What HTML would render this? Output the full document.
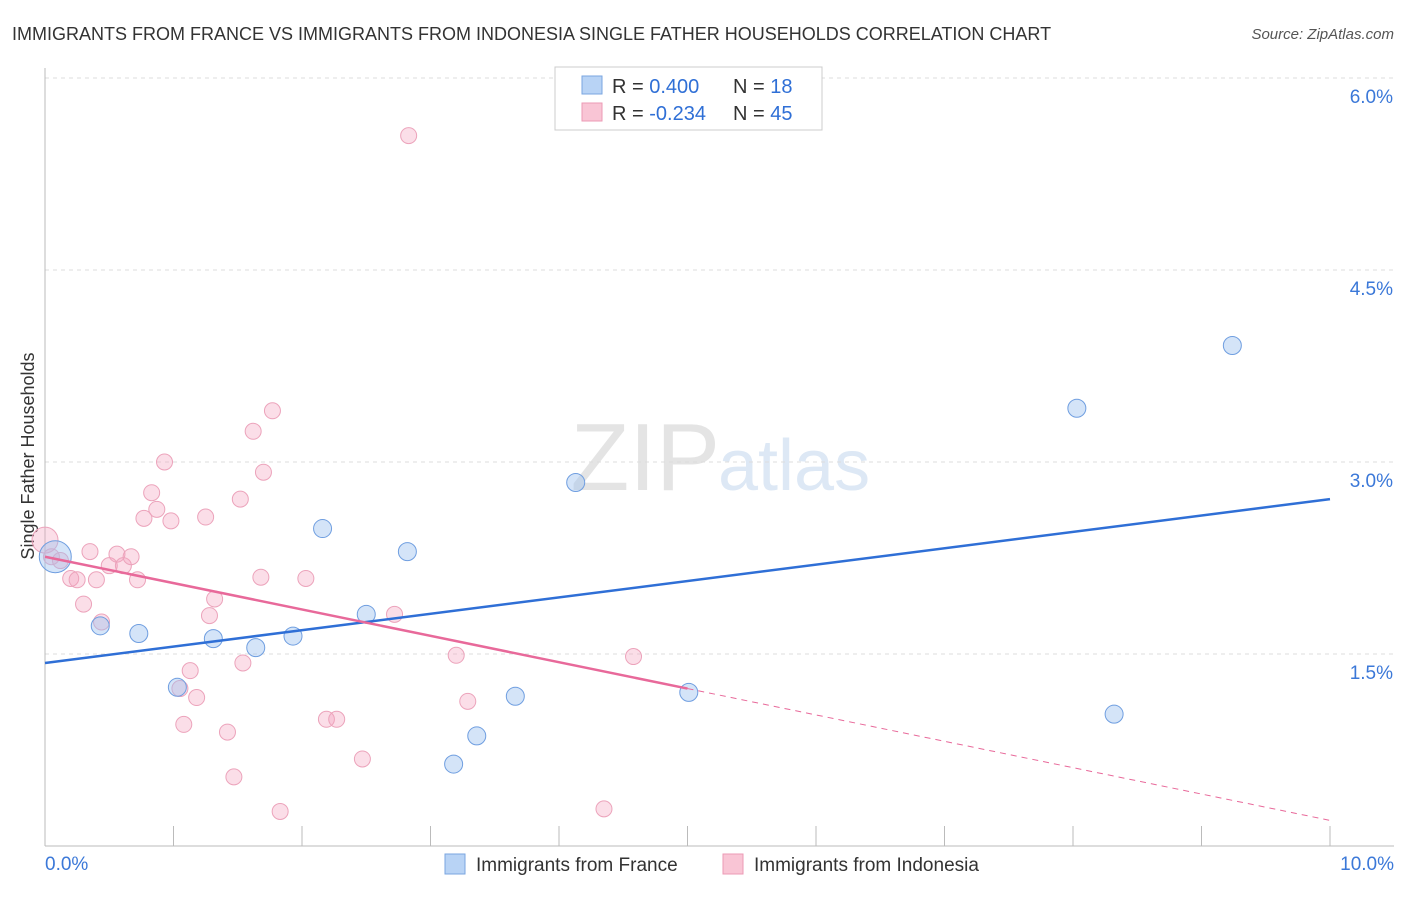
<!DOCTYPE html>
<html><head><meta charset="utf-8"><style>
body{margin:0;background:#fff;font-family:"Liberation Sans",sans-serif;}
svg text{font-family:"Liberation Sans",sans-serif;}
</style></head><body>
<svg width="1406" height="892" viewBox="0 0 1406 892">
<text x="12" y="40" font-size="18" fill="#333">IMMIGRANTS FROM FRANCE VS IMMIGRANTS FROM INDONESIA SINGLE FATHER HOUSEHOLDS CORRELATION CHART</text>
<text x="1394" y="39" font-size="15" fill="#555" font-style="italic" text-anchor="end">Source: ZipAtlas.com</text>
<text x="720" y="490" font-size="96" fill="#e4e4e4" text-anchor="end" font-family="Liberation Serif">ZIP</text>
<text x="718" y="490" font-size="72" fill="#dde8f5">atlas</text>
<g id="grid"></g>
<g id="axes"></g>
<text x="34" y="456" font-size="18" fill="#333" text-anchor="middle" transform="rotate(-90 34 456)">Single Father Households</text>
<g id="marks"></g>
<g>
<rect x="555" y="67" width="267" height="63" fill="#fff" stroke="#ccc"/>
<rect x="582" y="76" width="20" height="18" fill="#b8d3f5" stroke="#7aa6e0"/>
<rect x="582" y="103" width="20" height="18" fill="#f9c5d5" stroke="#ec9ab5"/>
<text x="612" y="93" font-size="20" fill="#333">R = <tspan fill="#2f6fd6">0.400</tspan><tspan x="733">N = </tspan><tspan fill="#2f6fd6">18</tspan></text>
<text x="612" y="120" font-size="20" fill="#333">R = <tspan fill="#2f6fd6">-0.234</tspan><tspan x="733">N = </tspan><tspan fill="#2f6fd6">45</tspan></text>
</g>
<g>
<rect x="445" y="854" width="20" height="20" fill="#b8d3f5" stroke="#7aa6e0"/>
<text x="476" y="871" font-size="19" fill="#333">Immigrants from France</text>
<rect x="723" y="854" width="20" height="20" fill="#f9c5d5" stroke="#ec9ab5"/>
<text x="754" y="871" font-size="19" fill="#333">Immigrants from Indonesia</text>
</g>
</svg>
<script>
const yTicks=[1.5,3.0,4.5,6.0];
const yTickLabels=["1.5%","3.0%","4.5%","6.0%"];
const xTicks=[0,1,2,3,4,5,6,7,8,9,10];
const franceX=[0.08,0.43,0.73,1.03,1.31,1.64,1.93,2.16,2.5,2.82,3.18,3.36,3.66,4.13,5.01,8.03,8.32,9.24];
const franceY=[2.26,1.72,1.66,1.24,1.62,1.55,1.64,2.48,1.81,2.3,0.64,0.86,1.17,2.84,1.2,3.42,1.03,3.91];
const franceSize=[16,9,9,9,9,9,9,9,9,9,9,9,9,9,9,9,9,9];
const indoX=[0.0,0.05,0.12,0.2,0.25,0.3,0.35,0.4,0.44,0.5,0.56,0.61,0.67,0.72,0.77,0.83,0.87,0.93,0.98,1.05,1.08,1.13,1.18,1.25,1.28,1.32,1.42,1.47,1.52,1.54,1.62,1.68,1.7,1.77,1.83,2.03,2.19,2.27,2.47,2.72,2.83,3.2,3.29,4.35,4.58];
const indoY=[2.39,2.26,2.23,2.09,2.08,1.89,2.3,2.08,1.75,2.19,2.28,2.19,2.26,2.08,2.56,2.76,2.63,3.0,2.54,1.23,0.95,1.37,1.16,2.57,1.8,1.93,0.89,0.54,2.71,1.43,3.24,2.1,2.92,3.4,0.27,2.09,0.99,0.99,0.68,1.81,5.55,1.49,1.13,0.29,1.48];
const franceTrend=[1.43,2.71];
const indoTrend=[2.26,0.2];
const indoSolidEnd=5.0;
const ns="http://www.w3.org/2000/svg";
const X=v=>45+v*128.5, Y=v=>654-(v-1.5)*128;
function mk(t,a,p){const e=document.createElementNS(ns,t);for(const k in a)e.setAttribute(k,a[k]);p.appendChild(e);return e;}
const grid=document.getElementById('grid'),axes=document.getElementById('axes'),marks=document.getElementById('marks');
yTicks.forEach((v,i)=>{
 const l=mk('line',{x1:45,x2:1394,y1:Y(v),y2:Y(v),stroke:'#ddd','stroke-dasharray':'4,4'},grid);
 
 
 const t=mk('text',{x:1393,y:Y(v)+25,'font-size':19,fill:'#3b78d8','text-anchor':'end'},axes);t.textContent=yTickLabels[i];
 
 
});
const ax=mk('line',{x1:45,x2:45,y1:68,y2:846,stroke:'#bbb'},axes);


const bx=mk('line',{x1:45,x2:1394,y1:846,y2:846,stroke:'#bbb'},axes);


xTicks.forEach(v=>{const t=mk('line',{x1:X(v),x2:X(v),y1:826,y2:846,stroke:'#bbb'},axes);
 
 });
[[0,"0.0%","start",45],[10,"10.0%","end",1394]].forEach(d=>{const t=mk('text',{x:d[3],y:870,'font-size':19,fill:'#3b78d8','text-anchor':d[2]},axes);t.textContent=d[1];
 
 });
indoX.forEach((v,i)=>{const c=mk('circle',{cx:X(v),cy:Y(indoY[i]),r:i==0?13:8,fill:'rgba(244,160,188,0.35)',stroke:'#eca3bb','stroke-width':1},marks);
 
 });
franceX.forEach((v,i)=>{const c=mk('circle',{cx:X(v),cy:Y(franceY[i]),r:franceSize[i],fill:'rgba(160,195,240,0.45)',stroke:'#6f9ee0','stroke-width':1},marks);
 
 });
const bl=mk('line',{x1:X(0),y1:Y(franceTrend[0]),x2:X(10),y2:Y(franceTrend[1]),stroke:'#2f6fd6','stroke-width':2.5},marks);


const iy=v=>indoTrend[0]+(indoTrend[1]-indoTrend[0])*v/10;
const pl=mk('line',{x1:X(0),y1:Y(iy(0)),x2:X(indoSolidEnd),y2:Y(iy(indoSolidEnd)),stroke:'#e8699a','stroke-width':2.5},marks);


const pd=mk('line',{x1:X(indoSolidEnd),y1:Y(iy(indoSolidEnd)),x2:X(10),y2:Y(iy(10)),stroke:'#e8699a','stroke-width':1,'stroke-dasharray':'6,5'},marks);


</script>
</body></html>
